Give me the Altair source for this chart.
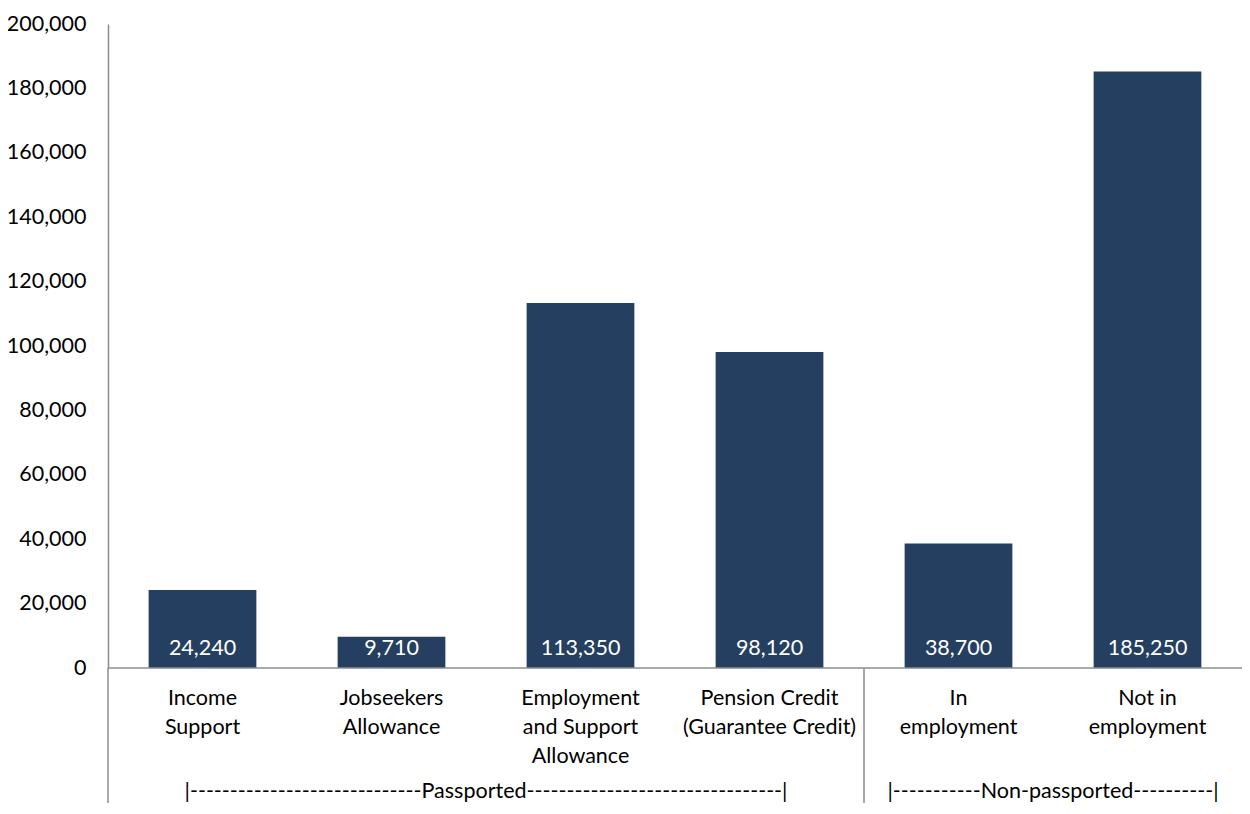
import altair as alt
import pandas as pd

categories = ["Income Support", "Jobseekers Allowance", "Employment and Support Allowance",
              "Pension Credit (Guarantee Credit)", "In employment", "Not in employment"]
label_lines = [["Income", "Support"], ["Jobseekers", "Allowance"],
               ["Employment", "and Support", "Allowance"],
               ["Pension Credit", "(Guarantee Credit)"], ["In", "employment"],
               ["Not in", "employment"]]
values = [24240, 9710, 113350, 98120, 38700, 185250]
group_labels = ["|-----------------------------Passported--------------------------------|",
                "|-----------Non-passported----------|"]
group_sizes = [4, 2]
y_ticks = [0, 20000, 40000, 60000, 80000, 100000, 120000, 140000, 160000, 180000, 200000]

W = 1134
H = 644
FONT = "Lato"
FS = 21.5
BAR = "#253F60"
GRAY = "#8c8c8c"

df = pd.DataFrame({"cat": categories, "value": values, "lines": label_lines})
step = W / len(categories)
cat_scale = alt.Scale(paddingInner=0.43, paddingOuter=0.215)

bars = alt.Chart(df).mark_bar(color=BAR).encode(
    x=alt.X("cat:N", sort=categories, scale=cat_scale,
            axis=alt.Axis(labels=False, ticks=False, title=None, domain=False)),
    y=alt.Y("value:Q", scale=alt.Scale(domain=[0, 200000], nice=False),
            axis=alt.Axis(values=y_ticks, labelExpr="format(datum.value, ',')", title=None,
                          ticks=False, grid=False,
                          labelFontSize=FS, labelFont=FONT, labelColor="#000000",
                          labelPadding=22, domainColor=GRAY, domainWidth=1.5)),
)

bar_text = alt.Chart(df).mark_text(color="white", font=FONT, fontSize=FS, baseline="middle").encode(
    x=alt.X("cat:N", sort=categories, scale=cat_scale, axis=None),
    y=alt.value(H - 19),
    text=alt.Text("value:Q", format=","),
)

cat_text = alt.Chart(df).mark_text(color="#000000", font=FONT, fontSize=FS, baseline="top",
                                   lineHeight=29).encode(
    x=alt.X("cat:N", sort=categories, scale=cat_scale, axis=None),
    y=alt.value(H + 20),
    text="lines",
)

centers = [step * group_sizes[0] / 2, step * (group_sizes[0] + group_sizes[1] / 2)]
gdf = pd.DataFrame({"label": group_labels, "center": centers})
pos_scale = alt.Scale(domain=[0, W], range=[0, W])
group_text = alt.Chart(gdf).mark_text(color="#000000", font=FONT, fontSize=FS, baseline="middle").encode(
    x=alt.X("center:Q", scale=pos_scale, axis=None),
    y=alt.value(H + 124),
    text="label",
)

rules_df = pd.DataFrame({"pos": [0, step * group_sizes[0]]})
sep = alt.Chart(rules_df).mark_rule(color=GRAY, strokeWidth=1.5).encode(
    x=alt.X("pos:Q", scale=pos_scale, axis=None),
    y=alt.value(H),
    y2=alt.value(H + 150),
)

base_df = pd.DataFrame({"x0": [0], "x1": [W + 20]})
baseline = alt.Chart(base_df).mark_rule(color=GRAY, strokeWidth=1.5).encode(
    x=alt.X("x0:Q", scale=pos_scale, axis=None),
    x2="x1:Q",
    y=alt.value(H),
)

base = alt.layer(bars, bar_text, cat_text)
extra = alt.layer(group_text, sep, baseline)

chart = alt.layer(base, extra).resolve_scale(x="independent").properties(
    width=W, height=H,
    autosize=alt.AutoSizeParams(type="none"),
    padding={"left": 100, "top": 16, "right": 0, "bottom": 135},
).configure_view(stroke=None)

chart.save("out.html", embed_options={"renderer": "svg", "actions": False})
